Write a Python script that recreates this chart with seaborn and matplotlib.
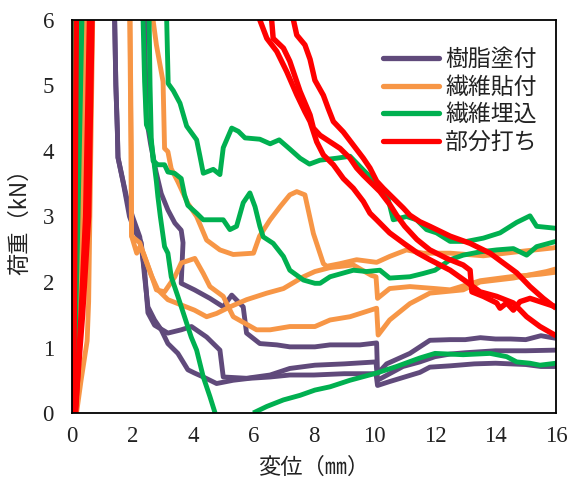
import numpy as np
import pandas as pd
import matplotlib
matplotlib.use("Agg")
import matplotlib.pyplot as plt
from matplotlib.lines import Line2D
import seaborn as sns

# ---------------- data ----------------
series_names = ["樹脂塗付", "繊維貼付", "繊維埋込", "部分打ち"]
series_colors = ["#604A7B", "#F79646", "#00B050", "#FF0000"]

# 樹脂塗付 (resin coated)
resin_1_x = [0.05, 0.45, 1.38, 1.41, 1.45, 1.5, 1.52, 1.7, 1.9, 2.07, 2.29, 2.4, 2.51, 2.73, 2.95, 3.17, 3.5, 3.83, 4.05, 4.34, 4.78, 5.33, 5.88, 6.55, 7.2, 8.0, 9.0, 10.05, 10.1, 10.5, 11.0, 11.5, 11.83, 12.5, 13.3, 14.0, 15.0, 15.5, 16.0]
resin_1_y = [0, 6.5, 6.5, 6.0, 5.0, 4.3, 3.9, 3.5, 3.0, 2.79, 2.6, 2.08, 1.62, 1.42, 1.27, 1.06, 0.91, 0.66, 0.61, 0.55, 0.45, 0.50, 0.53, 0.55, 0.58, 0.58, 0.6, 0.6, 0.42, 0.48, 0.55, 0.62, 0.70, 0.72, 0.75, 0.76, 0.74, 0.71, 0.71]
resin_2_x = [0.08, 0.5, 1.38, 1.41, 1.45, 1.5, 1.52, 1.8, 2.0, 2.24, 2.40, 2.51, 2.73, 3.17, 3.61, 3.95, 4.45, 4.89, 5.0, 5.77, 6.55, 7.2, 8.03, 9.0, 10.05, 10.1, 10.5, 10.94, 11.5, 12.0, 12.5, 13.0, 14.0, 15.0, 16.0]
resin_2_y = [0, 6.5, 6.5, 6.0, 5.0, 4.3, 3.9, 3.3, 3.0, 2.69, 2.18, 1.53, 1.34, 1.22, 1.27, 1.32, 1.16, 0.96, 0.55, 0.53, 0.58, 0.68, 0.73, 0.75, 0.78, 0.5, 0.6, 0.71, 0.78, 0.86, 0.9, 0.92, 0.95, 0.95, 0.96]
resin_3_x = [0.1, 0.55, 2.38, 2.40, 2.46, 2.6, 2.78, 2.95, 3.17, 3.4, 3.61, 3.67, 3.61, 4.05, 4.56, 5.0, 5.28, 5.66, 5.77, 6.21, 6.77, 7.2, 8.03, 8.53, 9.52, 10.07, 10.1, 10.4, 11.17, 11.83, 12.5, 13.0, 13.5, 14.0, 14.5, 15.0, 15.5, 16.0]
resin_3_y = [0, 6.5, 6.5, 6.0, 4.5, 4.1, 3.68, 3.35, 3.1, 2.9, 2.79, 2.6, 1.98, 1.88, 1.75, 1.62, 1.80, 1.62, 1.22, 1.06, 1.04, 1.01, 1.01, 1.04, 1.04, 1.07, 0.6, 0.75, 0.91, 1.11, 1.12, 1.12, 1.15, 1.13, 1.13, 1.12, 1.18, 1.14]

# 繊維貼付 (fiber attached)
fiber_1_x = [0.1, 0.5, 1.88, 1.91, 1.93, 1.95, 1.96, 1.97, 2.14, 2.25, 2.36, 2.62, 2.79, 3.06, 3.40, 3.61, 4.06, 4.34, 4.56, 5.0, 5.33, 6.1, 6.55, 7.2, 8.03, 8.53, 9.19, 10.07, 10.12, 10.5, 11.17, 11.83, 12.93, 13.49, 14.59, 15.69, 16.0]
fiber_1_y = [0, 6.5, 6.5, 6.0, 5.0, 4.0, 3.1, 2.7, 2.44, 2.54, 2.44, 2.11, 1.88, 1.85, 2.08, 2.29, 2.36, 2.13, 1.93, 1.78, 1.47, 1.27, 1.27, 1.32, 1.32, 1.42, 1.47, 1.60, 1.19, 1.42, 1.67, 1.83, 1.88, 2.0, 2.06, 2.16, 2.2]
fiber_2_x = [0.12, 0.6, 2.6, 2.68, 2.79, 3.01, 3.06, 3.17, 3.28, 3.50, 3.83, 4.12, 4.45, 4.89, 5.33, 6.0, 6.2, 6.55, 6.88, 7.2, 7.43, 7.70, 7.98, 8.31, 8.42, 8.86, 9.41, 10.07, 10.5, 11.06, 11.61, 12.5, 13.6, 14.7, 15.9, 16.0]
fiber_2_y = [0, 6.5, 6.5, 6.0, 5.62, 5.06, 4.04, 3.99, 3.73, 3.53, 3.2, 3.0, 2.64, 2.49, 2.42, 2.44, 2.7, 2.95, 3.15, 3.33, 3.38, 3.33, 2.74, 2.28, 2.24, 2.28, 2.34, 2.30, 2.39, 2.49, 2.44, 2.44, 2.40, 2.46, 2.52, 2.53]
fiber_3_x = [0.15, 0.3, 0.5, 0.55, 0.7, 1.9, 1.92, 1.94, 1.96, 1.97, 2.24, 2.35, 2.62, 2.84, 3.17, 3.61, 4.05, 4.45, 4.78, 5.22, 5.77, 6.44, 6.99, 7.65, 8.03, 8.53, 9.3, 9.9, 10.05, 10.1, 10.5, 11.17, 12.0, 12.5, 13.0, 13.5, 14.5, 15.5, 16.0]
fiber_3_y = [0, 0.5, 1.1, 1.7, 6.5, 6.5, 6.0, 5.0, 4.0, 2.7, 2.6, 2.45, 2.1, 1.88, 1.73, 1.65, 1.57, 1.47, 1.52, 1.62, 1.73, 1.83, 1.90, 2.08, 2.16, 2.22, 2.26, 2.1, 2.08, 1.75, 1.90, 1.93, 1.9, 1.88, 1.95, 2.02, 2.08, 2.12, 2.15]

# 繊維埋込 (fiber embedded) -- specimen 1 leaves the chart below zero, so two pieces
embed_1a_x = [0.0, 0.04, 2.33, 2.35, 2.40, 2.46, 2.57, 2.68, 2.79, 2.84, 2.92, 3.06, 3.17, 3.28, 3.50, 3.72, 3.94, 4.12, 4.34, 4.56, 4.73]
embed_1a_y = [0, 6.5, 6.5, 6.0, 5.06, 4.40, 4.29, 3.94, 3.53, 3.3, 3.0, 2.54, 2.44, 2.08, 1.78, 1.47, 1.16, 0.96, 0.55, 0.25, 0.0]
embed_1b_x = [5.99, 6.44, 6.99, 7.54, 8.03, 8.53, 9.19, 10.07, 10.73, 11.5, 12.0, 12.93, 13.82, 14.37, 14.7, 15.14, 15.47, 16.0]
embed_1b_y = [0.0, 0.1, 0.2, 0.27, 0.35, 0.40, 0.50, 0.61, 0.71, 0.84, 0.91, 0.89, 0.91, 0.86, 0.78, 0.76, 0.73, 0.76]
embed_2_x = [0.05, 0.2, 0.35, 2.52, 2.55, 2.58, 2.62, 2.68, 2.84, 3.06, 3.17, 3.39, 3.61, 3.72, 3.83, 4.12, 4.34, 5.0, 5.22, 5.44, 5.66, 5.88, 6.05, 6.21, 6.32, 6.65, 6.99, 7.2, 7.65, 8.03, 8.2, 8.53, 9.3, 9.74, 10.18, 10.5, 11.17, 11.61, 12.0, 12.5, 12.93, 13.49, 14.04, 14.59, 15.03, 15.36, 16.0]
embed_2_y = [0, 3.0, 6.5, 6.5, 6.0, 5.0, 4.2, 3.85, 3.79, 3.79, 3.68, 3.66, 3.58, 3.33, 3.17, 3.05, 2.95, 2.95, 2.80, 2.85, 3.21, 3.36, 3.15, 2.85, 2.69, 2.59, 2.39, 2.18, 2.03, 1.98, 1.98, 2.08, 2.18, 2.16, 2.18, 2.06, 2.08, 2.13, 2.18, 2.34, 2.41, 2.46, 2.49, 2.51, 2.41, 2.54, 2.62]
embed_3_x = [0.0, 0.1, 0.2, 3.1, 3.13, 3.18, 3.35, 3.57, 3.79, 4.12, 4.23, 4.34, 4.67, 4.89, 5.0, 5.28, 5.5, 5.72, 6.21, 6.55, 6.85, 7.2, 7.54, 7.85, 8.2, 8.75, 9.19, 9.63, 10.07, 10.4, 10.62, 11.06, 11.39, 11.72, 12.05, 12.5, 13.05, 13.6, 14.15, 14.7, 15.14, 15.36, 16.0]
embed_3_y = [0, 3.0, 6.5, 6.5, 6.0, 5.03, 4.92, 4.73, 4.38, 4.17, 3.92, 3.66, 3.72, 3.64, 4.05, 4.35, 4.30, 4.20, 4.18, 4.11, 4.17, 4.03, 3.89, 3.80, 3.86, 3.89, 3.92, 3.71, 3.51, 3.36, 2.95, 3.0, 2.95, 2.80, 2.75, 2.62, 2.62, 2.67, 2.75, 2.91, 3.01, 2.85, 2.82]

# 部分打ち (partial driving)
partial_1_x = [0.05, 0.1, 0.15, 7.28, 7.32, 7.43, 7.7, 7.87, 8.03, 8.31, 8.47, 8.64, 8.97, 9.3, 9.63, 9.85, 10.07, 10.29, 10.62, 10.95, 11.17, 11.5, 11.83, 12.5, 13.16, 13.82, 14.26, 14.7, 15.14, 15.58, 16.0]
partial_1_y = [0, 3.0, 6.5, 6.5, 6.0, 5.77, 5.62, 5.4, 5.08, 4.85, 4.65, 4.45, 4.29, 4.09, 3.89, 3.74, 3.54, 3.43, 3.28, 3.13, 3.02, 2.92, 2.85, 2.70, 2.59, 2.44, 2.29, 2.14, 1.93, 1.75, 1.6]
partial_2_x = [0.12, 0.3, 0.45, 0.6, 6.58, 6.6, 6.65, 6.99, 7.2, 7.54, 7.87, 7.98, 8.2, 8.53, 8.86, 9.19, 9.41, 9.63, 9.96, 10.18, 10.51, 10.73, 11.0, 11.4, 11.83, 12.39, 12.93, 13.16, 13.22, 13.6, 14.04, 14.15, 14.37, 14.59, 14.81, 15.14, 15.47, 16.0]
partial_2_y = [0, 1.5, 3.0, 6.5, 6.5, 6.0, 5.72, 5.57, 5.37, 4.91, 4.55, 4.35, 4.24, 4.14, 4.04, 3.89, 3.74, 3.63, 3.48, 3.38, 3.18, 3.02, 2.85, 2.65, 2.49, 2.36, 2.26, 2.18, 1.85, 1.78, 1.68, 1.60, 1.68, 1.57, 1.70, 1.75, 1.70, 1.62]
partial_3_x = [0.1, 0.35, 0.55, 0.68, 6.18, 6.21, 6.44, 6.77, 7.1, 7.43, 7.7, 7.87, 8.09, 8.31, 8.64, 8.97, 9.3, 9.63, 9.85, 10.07, 10.5, 11.0, 11.4, 11.83, 12.5, 13.05, 13.49, 14.04, 14.59, 15.03, 15.47, 16.0]
partial_3_y = [0, 1.5, 3.0, 6.5, 6.5, 6.0, 5.72, 5.52, 5.21, 4.86, 4.6, 4.45, 4.14, 3.94, 3.79, 3.58, 3.43, 3.23, 3.05, 2.95, 2.75, 2.58, 2.45, 2.34, 2.18, 2.0, 1.85, 1.78, 1.68, 1.47, 1.32, 1.18]

x_ticks = [0, 2, 4, 6, 8, 10, 12, 14, 16]
y_ticks = [0, 1, 2, 3, 4, 5, 6]
x_label = "変位（㎜）"
y_label = "荷重（kN）"

curves = {
    "樹脂塗付": [(resin_1_x, resin_1_y), (resin_2_x, resin_2_y), (resin_3_x, resin_3_y)],
    "繊維貼付": [(fiber_1_x, fiber_1_y), (fiber_2_x, fiber_2_y), (fiber_3_x, fiber_3_y)],
    "繊維埋込": [(embed_1a_x, embed_1a_y), (embed_1b_x, embed_1b_y), (embed_2_x, embed_2_y), (embed_3_x, embed_3_y)],
    "部分打ち": [(partial_1_x, partial_1_y), (partial_2_x, partial_2_y), (partial_3_x, partial_3_y)],
}

rows = []
for s in series_names:
    for k, (xs, ys) in enumerate(curves[s]):
        for i, (xv, yv) in enumerate(zip(xs, ys)):
            rows.append({"series": s, "unit": f"{s}_{k}", "order": i, "x": xv, "y": yv})
df = pd.DataFrame(rows)

# ---------------- plotting ----------------
sns.set_theme(style="white")
plt.rcParams["font.family"] = ["Noto Sans CJK JP", "DejaVu Sans"]

fig = plt.figure(figsize=(5.69, 4.86), dpi=100)
ax = fig.add_axes([72 / 569, 1 - 413 / 486, (556 - 72) / 569, (413 - 20) / 486])

widths = {"樹脂塗付": 3.5, "繊維貼付": 3.5, "繊維埋込": 3.5, "部分打ち": 3.9}
for s, c in zip(series_names, series_colors):
    sub = df[df["series"] == s]
    sns.lineplot(data=sub, x="x", y="y", units="unit", estimator=None, sort=False,
                 color=c, linewidth=widths[s], ax=ax, legend=False,
                 solid_joinstyle="round", solid_capstyle="butt")

ax.set_xlim(0, 16)
ax.set_ylim(0, 6)
ax.set_xticks(x_ticks)
ax.set_yticks(y_ticks)
ax.set_xticklabels([str(v) for v in x_ticks], family="Liberation Serif", fontsize=16.5)
ax.set_yticklabels([str(v) for v in y_ticks], family="Liberation Serif", fontsize=16.5)
ax.tick_params(direction="in", length=5, width=1.1, colors="black", labelcolor="#222222")
ax.tick_params(axis="x", top=False, pad=9)
ax.tick_params(axis="y", right=False, pad=13)
for sp in ax.spines.values():
    sp.set_visible(True)
    sp.set_color("black")
    sp.set_linewidth(1.3)

ax.set_xlabel(x_label, fontsize=16, color="#222222", labelpad=7)
ax.set_ylabel(y_label, fontsize=16, color="#222222", labelpad=8)
ax.grid(False)

handles = [Line2D([0], [0], color=c, lw=3.8, solid_capstyle="round") for c in series_colors]
leg = ax.legend(handles, series_names, loc="upper left",
                bbox_to_anchor=(383 / 569, 1 - 48 / 486), bbox_transform=fig.transFigure,
                frameon=False, fontsize=16.5, handlelength=2.45, handletextpad=0.25,
                labelspacing=0.2, borderpad=0, borderaxespad=0)
for t in leg.get_texts():
    t.set_color("#222222")

fig.savefig("out.png", dpi=100)
